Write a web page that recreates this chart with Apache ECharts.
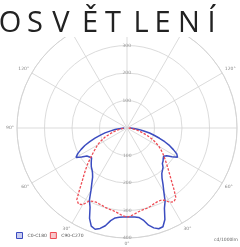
<!DOCTYPE html>
<html>
<head>
    <meta charset="utf-8">
    <title>osvetleni</title>
    <script src="https://cdn.jsdelivr.net/npm/echarts@6/dist/echarts.min.js"></script>
    <style>
        html, body { margin: 0; padding: 0; background: #fff; }
        #main { width: 240px; height: 247px; }
    </style>
</head>
<body>
<div id="main"></div>
<script>
    // gamma angles (deg from nadir), intensities in cd/1000lm
    var gammas = [0, 2.5, 5, 7.5, 10, 12.5, 15, 17.5, 20, 22.5, 25, 27.5, 30, 32.5, 35, 37.5, 40, 42.5, 45,
                  47.5, 50, 52.5, 55, 57.5, 60, 62.5, 65, 67.5, 70, 72.5, 75, 77.5, 80, 82.5, 85, 87.5, 90];
    var c0 =   [324, 324, 325, 328, 340, 362, 376, 384, 382, 360, 322, 300, 268, 244, 222, 208, 196, 194, 182,
                178, 172, 168, 176, 194, 212, 204, 186, 168, 146, 124, 102, 84, 62, 46, 30, 18, 10];
    var c180 = [324, 324, 326, 330, 342, 364, 378, 386, 380, 356, 318, 296, 262, 238, 218, 206, 198, 192, 184,
                176, 168, 166, 178, 196, 214, 202, 184, 166, 144, 122, 100, 82, 60, 44, 28, 16, 10];
    var c90 =  [324, 320, 314, 308, 304, 302, 300, 296, 292, 290, 290, 296, 312, 318, 310, 280, 252, 230, 212,
                196, 182, 170, 158, 146, 134, 120, 106, 92, 76, 62, 50, 38, 28, 20, 14, 9, 6];
    var c270 = [324, 320, 314, 308, 304, 302, 300, 296, 294, 292, 294, 300, 322, 328, 318, 284, 254, 232, 212,
                194, 176, 160, 146, 134, 124, 112, 98, 86, 70, 58, 46, 36, 26, 19, 13, 8, 6];
    var radiusTicks = [100, 200, 300, 400];
    var angleTicks = [0, 30, 60, 90, 120, 150, 180];
    var titleLetters = ['O', 'S', 'V', 'Ě', 'T', 'L', 'E', 'N', 'Í'];
    var letterCenter = [10, 35, 61, 90, 113, 141, 162.5, 189, 211.5];

    // right half goes 360-g, left half goes g (clockwise from the bottom)
    function build(right, left) {
        var out = [];
        for (var i = gammas.length - 1; i >= 0; i--) out.push([right[i], 360 - gammas[i]]);
        for (var j = 0; j < gammas.length; j++) out.push([left[j], gammas[j]]);
        return out;
    }

    var blue = '#3b4cc0';
    var red = '#ee4c55';
    var gridColor = '#d2d2d2';

    var graphics = [{
        type: 'rect', left: 0, top: 0, z: 100,
        shape: { width: 240, height: 37 }, style: { fill: '#fff' }
    }];
    titleLetters.forEach(function (ch, k) {
        graphics.push({
            type: 'text', z: 101, x: letterCenter[k], y: 24,
            style: { text: ch, fontFamily: 'Open Sans', fontSize: 29, fill: '#222', align: 'center', verticalAlign: 'middle' }
        });
    });
    graphics.push({
        type: 'text', z: 101, right: 2, top: 237,
        style: { text: 'cd/1000lm', fontFamily: 'DejaVu Sans', fontSize: 4.5, fill: '#666' }
    });

    var chart = echarts.init(document.getElementById('main'));
    chart.setOption({
        animation: false,
        graphic: graphics,
        legend: {
            orient: 'vertical', left: 11, top: 227, itemWidth: 6, itemHeight: 6, itemGap: 3,
            textStyle: { fontSize: 4.5, color: '#555', fontFamily: 'DejaVu Sans' },
            data: [
                { name: 'C0-C180', icon: 'rect', itemStyle: { color: '#c9cdf0', borderColor: blue, borderWidth: 1 } },
                { name: 'C90-C270', icon: 'rect', itemStyle: { color: '#f7c9cc', borderColor: red, borderWidth: 1 } }
            ]
        },
        polar: [
            { center: [127, 128], radius: 110 },
            { center: [127, 128], radius: 110 }
        ],
        angleAxis: [{
            polarIndex: 0, type: 'value', min: 0, max: 360, interval: 30, startAngle: 270, clockwise: true,
            axisLine: { lineStyle: { color: gridColor, width: 0.8 } },
            axisTick: { show: false },
            splitLine: { lineStyle: { color: gridColor, width: 0.8 } },
            axisLabel: {
                fontSize: 4.5, color: '#888', margin: 3, fontFamily: 'DejaVu Sans',
                formatter: function (v) {
                    var a = v > 180 ? 360 - v : v;
                    return angleTicks.indexOf(a) >= 0 ? a + '°' : '';
                }
            }
        }, {
            polarIndex: 1, type: 'value', min: 0, max: 360, startAngle: 90,
            axisLine: { show: false }, axisTick: { show: false },
            splitLine: { show: false }, axisLabel: { show: false }
        }],
        radiusAxis: [{
            polarIndex: 0, type: 'value', min: 0, max: 400, interval: 100,
            axisLine: { show: false }, axisTick: { show: false },
            splitLine: { lineStyle: { color: gridColor, width: 0.8 } },
            axisLabel: {
                fontSize: 4.5, color: '#999', margin: -4, fontFamily: 'DejaVu Sans',
                formatter: function (v) { return radiusTicks.indexOf(v) >= 0 ? v : ''; }
            }
        }, {
            polarIndex: 1, type: 'value', min: 0, max: 400, interval: 100,
            axisLine: { show: false }, axisTick: { show: false }, splitLine: { show: false },
            axisLabel: {
                fontSize: 4.5, color: '#999', margin: -4, fontFamily: 'DejaVu Sans',
                formatter: function (v) { return radiusTicks.indexOf(v) >= 0 ? v : ''; }
            }
        }],
        series: [{
            name: 'C0-C180', type: 'line', coordinateSystem: 'polar', polarIndex: 0,
            symbol: 'none', data: build(c0, c180),
            lineStyle: { color: blue, width: 1.5 }, itemStyle: { color: blue }
        }, {
            name: 'C90-C270', type: 'line', coordinateSystem: 'polar', polarIndex: 0,
            symbol: 'none', data: build(c90, c270),
            lineStyle: { color: red, width: 1.3, type: [2.5, 1.5] }, itemStyle: { color: red }
        }]
    });
</script>
</body>
</html>
